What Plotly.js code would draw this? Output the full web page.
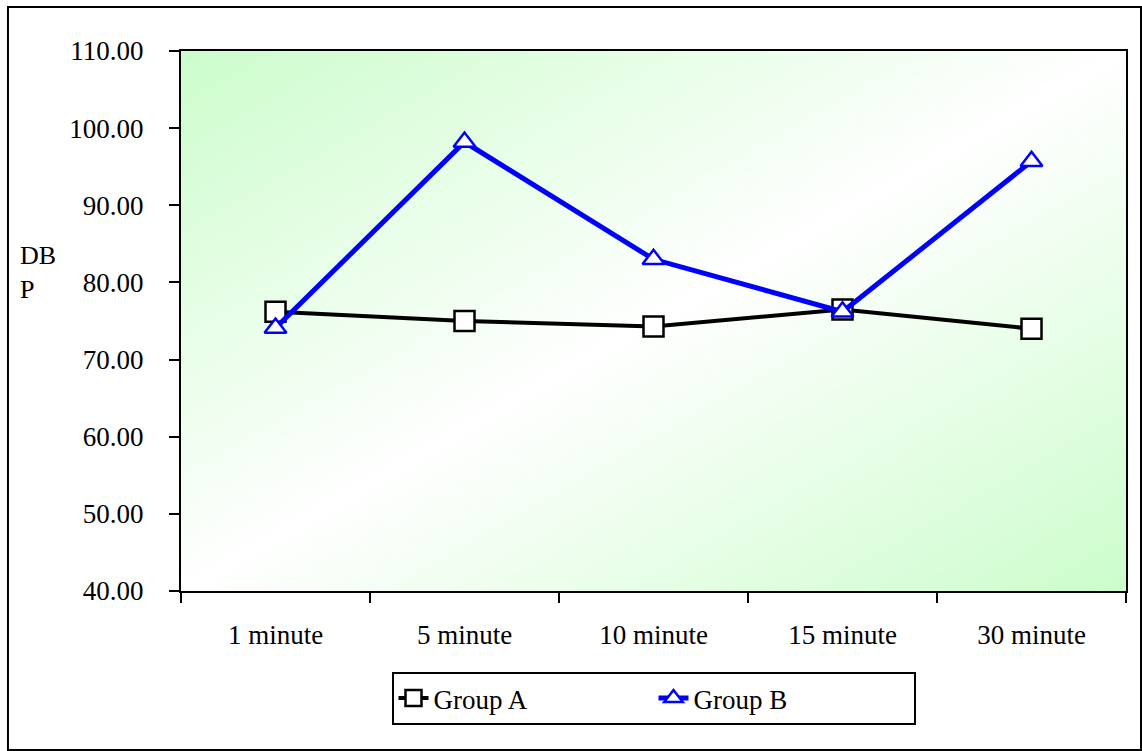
<!DOCTYPE html>
<html>
<head>
<meta charset="utf-8">
<script src="https://cdn.plot.ly/plotly-3.0.1.min.js"></script>
<style>
  html, body { margin: 0; padding: 0; background: #ffffff; }
  #chart { width: 1142px; height: 751px; }
</style>
</head>
<body>
<div id="chart"></div>
<script>
// Time points after administration
const categories = ['1 minute', '5 minute', '10 minute', '15 minute', '30 minute'];

// Diastolic blood pressure (mean) per group
const groupA = [76.2, 75.0, 74.3, 76.5, 74.0];
const groupB = [74.1, 98.2, 83.0, 76.2, 95.7];

const yTicks = [40, 50, 60, 70, 80, 90, 100, 110];

// Plot-area fill: green corners fading to white along the anti-diagonal
function gradientImage() {
  const c = document.createElement('canvas');
  c.width = 400; c.height = 400;
  const ctx = c.getContext('2d');
  const g = ctx.createLinearGradient(0, 0, 400, 400);
  g.addColorStop(0, 'rgb(204,253,204)');
  g.addColorStop(0.5, 'rgb(255,255,255)');
  g.addColorStop(1, 'rgb(204,253,204)');
  ctx.fillStyle = g;
  ctx.fillRect(0, 0, 400, 400);
  return c.toDataURL('image/png');
}

const font = { family: 'Liberation Serif, Times New Roman, serif', size: 27, color: '#000' };
const titleFont = { family: 'Liberation Serif, Times New Roman, serif', size: 26, color: '#000' };

const traces = [
  {
    x: categories, y: groupA, name: 'Group A', type: 'scatter', mode: 'lines+markers',
    line: { color: '#000000', width: 4 },
    marker: { symbol: 'square', size: 20, color: '#ffffff', line: { color: '#000000', width: 2.5 } }
  },
  {
    x: categories, y: groupB, name: 'Group B', type: 'scatter', mode: 'lines+markers',
    line: { color: '#0000ff', width: 5 },
    marker: { symbol: 'triangle-up', size: 19, color: '#ffffff', line: { color: '#0000ff', width: 2.5 } }
  }
];

const layout = {
  width: 1142, height: 751,
  margin: { l: 181, r: 16, t: 51, b: 160 },
  paper_bgcolor: '#ffffff',
  plot_bgcolor: 'rgba(0,0,0,0)',
  font: font,
  showlegend: true,
  xaxis: {
    type: 'category',
    range: [-0.5, 4.5],
    tickson: 'boundaries',
    ticks: 'outside', ticklen: 10, tickwidth: 2, tickcolor: '#000',
    showline: true, linewidth: 2, linecolor: '#000', mirror: true,
    showgrid: false, zeroline: false,
    ticklabelstandoff: 19,
    tickfont: font
  },
  yaxis: {
    range: [40, 110],
    tickvals: yTicks,
    tickformat: '.2f',
    ticks: 'outside', ticklen: 10, tickwidth: 2, tickcolor: '#000',
    showline: true, linewidth: 2, linecolor: '#000', mirror: true,
    showgrid: false, zeroline: false,
    ticklabelstandoff: 20,
    tickfont: font
  },
  legend: {
    orientation: 'h',
    x: 0.5, xanchor: 'center',
    y: -0.15, yanchor: 'top',
    bordercolor: '#000', borderwidth: 2,
    bgcolor: '#ffffff',
    entrywidth: 215,
    font: font
  },
  annotations: [
    {
      text: 'DB<br>P', xref: 'paper', yref: 'paper',
      x: -0.173, xanchor: 'left', y: 0.59, yanchor: 'middle',
      showarrow: false, align: 'left', font: titleFont
    }
  ],
  shapes: [
    {
      type: 'rect', xref: 'paper', yref: 'paper',
      x0: -0.1831, x1: 1.0159, y0: -0.2944, y1: 1.0815,
      line: { color: '#000', width: 2 }, fillcolor: 'rgba(0,0,0,0)', layer: 'below'
    }
  ],
  images: [
    {
      source: gradientImage(), xref: 'paper', yref: 'paper',
      x: 0, y: 1, sizex: 1, sizey: 1, xanchor: 'left', yanchor: 'top',
      sizing: 'stretch', layer: 'below'
    }
  ]
};

Plotly.newPlot('chart', traces, layout, { displayModeBar: false, staticPlot: true });
</script>
</body>
</html>
